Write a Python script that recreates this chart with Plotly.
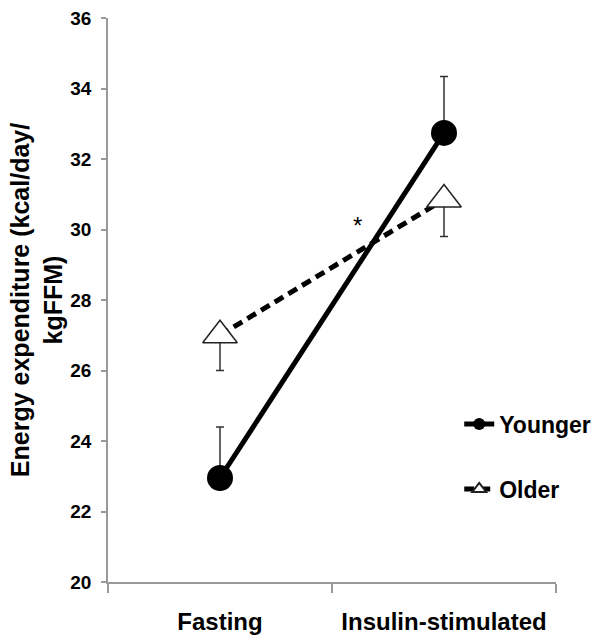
import plotly.graph_objects as go

categories = ["Fasting", "Insulin-stimulated"]
younger = [22.95, 32.74]
younger_err_up = [1.45, 1.6]
older = [27.0, 30.85]
older_err_down = [1.0, 1.05]
y_ticks = [20, 22, 24, 26, 28, 30, 32, 34, 36]

FONT = "Liberation Sans, Arial, sans-serif"

fig = go.Figure()

fig.add_trace(go.Scatter(
    x=categories, y=younger, name="Younger", mode="lines+markers",
    line=dict(color="black", width=5),
    marker=dict(symbol="circle", size=26, color="black"),
    error_y=dict(type="data", symmetric=False, array=younger_err_up,
                 arrayminus=[0, 0], color="#333333", thickness=1.5, width=4),
    legendgroup="a",
))
fig.add_trace(go.Scatter(
    x=categories, y=older, name="Older", mode="lines+markers",
    line=dict(color="black", width=5, dash="10px,6px"),
    marker=dict(symbol="triangle-up", size=30, color="white",
                line=dict(color="#222222", width=1.5)),
    error_y=dict(type="data", symmetric=False, array=[0, 0],
                 arrayminus=older_err_down, color="#333333", thickness=1.5, width=4),
    legendgroup="b",
))

fig.add_annotation(x=0.612, y=30.1, xref="x", yref="y", text="*",
                   showarrow=False, font=dict(family=FONT, size=24, color="black"))

fig.update_layout(
    width=608, height=640,
    margin=dict(l=108, r=47, t=18, b=58),
    paper_bgcolor="white", plot_bgcolor="white",
    showlegend=True,
    legend=dict(x=0.784, y=0.318, xanchor="left", yanchor="top",
                font=dict(family=FONT, size=23, color="black", weight="bold"),
                tracegroupgap=32, traceorder="grouped", itemsizing="constant",
                bgcolor="rgba(0,0,0,0)"),
    xaxis=dict(type="category", range=[-0.5, 1.5], tickson="boundaries",
               automargin=False,
               showline=True, linecolor="#999999", linewidth=1.5,
               ticks="outside", ticklen=9, tickcolor="#999999", tickwidth=1.5,
               showgrid=False, zeroline=False, ticklabelstandoff=17,
               tickfont=dict(family=FONT, size=24, color="black", weight="bold")),
    yaxis=dict(range=[20, 36], tickvals=y_ticks, ticktext=[str(v) for v in y_ticks],
               automargin=False,
               showline=True, linecolor="#999999", linewidth=1.5,
               ticks="outside", ticklen=5, tickcolor="#999999", tickwidth=1.5,
               showgrid=False, zeroline=False, ticklabelstandoff=6,
               tickfont=dict(family=FONT, size=19, color="black", weight="bold"),
               title=dict(text="Energy expenditure (kcal/day/<br>kgFFM)",
                          font=dict(family=FONT, size=25, color="black", weight="bold"),
                          standoff=1)),
)

fig.write_html("out.html")
